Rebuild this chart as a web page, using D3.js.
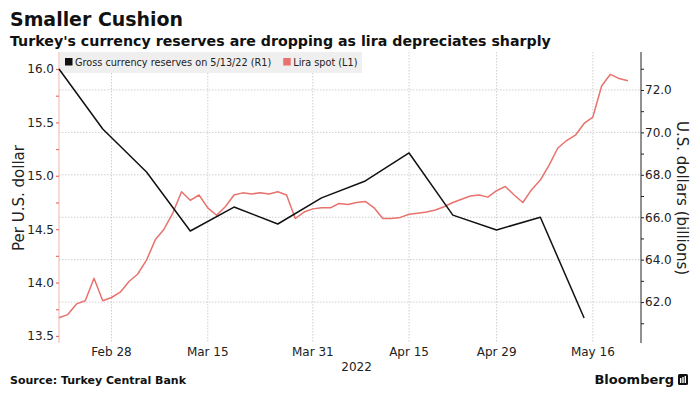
<!DOCTYPE html>
<html>
<head>
<meta charset="utf-8">
<script src="https://cdn.jsdelivr.net/npm/d3@7"></script>
<style>
    body { margin: 0; background: white; }
    text { font-family: "DejaVu Sans", sans-serif; }
</style>
</head>
<body>
<div id="chart"></div>
<script>
// Data: one entry per trading day (weekdays), 2022
var dates = [
    "Feb 18",
    "Feb 21", "Feb 22", "Feb 23", "Feb 24", "Feb 25",
    "Feb 28", "Mar 1", "Mar 2", "Mar 3", "Mar 4",
    "Mar 7", "Mar 8", "Mar 9", "Mar 10", "Mar 11",
    "Mar 14", "Mar 15", "Mar 16", "Mar 17", "Mar 18",
    "Mar 21", "Mar 22", "Mar 23", "Mar 24", "Mar 25",
    "Mar 28", "Mar 29", "Mar 30", "Mar 31", "Apr 1",
    "Apr 4", "Apr 5", "Apr 6", "Apr 7", "Apr 8",
    "Apr 11", "Apr 12", "Apr 13", "Apr 14", "Apr 15",
    "Apr 18", "Apr 19", "Apr 20", "Apr 21", "Apr 22",
    "Apr 25", "Apr 26", "Apr 27", "Apr 28", "Apr 29",
    "May 2", "May 3", "May 4", "May 5", "May 6",
    "May 9", "May 10", "May 11", "May 12", "May 13",
    "May 16", "May 17", "May 18", "May 19", "May 20"
];

// Lira per U.S. dollar (left axis)
var liraSpot = [
    13.67,
    13.70, 13.80, 13.83, 14.04, 13.83,
    13.86, 13.91, 14.01, 14.08, 14.21,
    14.40, 14.50, 14.65, 14.85, 14.77,
    14.82, 14.70, 14.63, 14.71, 14.82,
    14.84, 14.83, 14.84, 14.83, 14.85,
    14.82, 14.60, 14.66, 14.69, 14.70,
    14.70, 14.74, 14.73, 14.75, 14.76,
    14.70, 14.60, 14.60, 14.61, 14.64,
    14.65, 14.66, 14.68, 14.71, 14.75,
    14.78, 14.81, 14.82, 14.80, 14.86,
    14.90, 14.82, 14.75, 14.87, 14.96,
    15.10, 15.26, 15.33, 15.38, 15.49,
    15.55, 15.84, 15.95, 15.91, 15.89
];

// Gross currency reserves, USD billions (right axis), weekly on Fridays
var reserveDates = [
    "Feb 18", "Feb 25", "Mar 4", "Mar 11", "Mar 18", "Mar 25", "Apr 1",
    "Apr 8", "Apr 15", "Apr 22", "Apr 29", "May 6", "May 13"
];
var reserves = [
    72.99, 70.16, 68.13, 65.35, 66.48, 65.68, 66.91,
    67.71, 69.03, 66.10, 65.40, 66.00, 61.25
];

var dateTicks = ["Feb 28", "Mar 15", "Mar 31", "Apr 15", "Apr 29", "May 16"];
var leftTicks = [13.5, 14.0, 14.5, 15.0, 15.5, 16.0];
var rightTicks = [62, 64, 66, 68, 70, 72];

var legendItems = [
    {label: "Gross currency reserves on 5/13/22 (R1)", color: "#111111"},
    {label: "Lira spot (L1)", color: "#e8726d"}
];


var W = 698, H = 398;
var plot = {left: 59, right: 641, top: 52, bottom: 343};
var RED = "#e8726d";

var svg = d3.select("#chart")
    .append("svg")
    .attr("width", W)
    .attr("height", H);

var dayIndex = function(d) { return dates.indexOf(d); };

var x = d3.scaleLinear()
    .domain([0, 66.5])
    .range([plot.left, plot.right]);

var yLeft = d3.scaleLinear()
    .domain([13.434, 16.159])
    .range([plot.bottom, plot.top]);

var yRight = d3.scaleLinear()
    .domain([60.07, 73.79])
    .range([plot.bottom, plot.top]);

// Titles
svg.append("text")
    .attr("x", 10).attr("y", 26)
    .style("font-size", "19.5px").style("font-weight", "bold")
    .attr("fill", "#111")
    .attr("textLength", 173).attr("lengthAdjust", "spacingAndGlyphs")
    .text("Smaller Cushion");

svg.append("text")
    .attr("x", 10).attr("y", 46)
    .style("font-size", "14.2px").style("font-weight", "bold")
    .attr("fill", "#111")
    .text("Turkey's currency reserves are dropping as lira depreciates sharply");

// Gridlines
svg.append("g")
    .selectAll("line")
    .data(rightTicks)
    .enter()
    .append("line")
    .attr("x1", plot.left).attr("x2", plot.right)
    .attr("y1", function(d) { return yRight(d); })
    .attr("y2", function(d) { return yRight(d); })
    .attr("stroke", "#cfcfcf")
    .attr("stroke-dasharray", "1.5,1.5");

svg.append("g")
    .selectAll("line")
    .data(dateTicks)
    .enter()
    .append("line")
    .attr("x1", function(d) { return x(dayIndex(d)); })
    .attr("x2", function(d) { return x(dayIndex(d)); })
    .attr("y1", plot.top).attr("y2", plot.bottom)
    .attr("stroke", "#cfcfcf")
    .attr("stroke-dasharray", "1.5,1.5");

// Legend
svg.append("rect")
    .attr("x", plot.left + 1).attr("y", plot.top)
    .attr("width", 302).attr("height", 21)
    .attr("fill", "#efefef");

var lx = 65;
legendItems.forEach(function(item, i) {
    svg.append("rect")
        .attr("x", lx).attr("y", 58)
        .attr("width", 7.5).attr("height", 7.5)
        .attr("fill", item.color);
    var t = svg.append("text")
        .attr("x", lx + 10).attr("y", 66)
        .style("font-size", "9.7px")
        .attr("fill", "#222")
        .text(item.label);
    lx += t.node().getComputedTextLength() + 22;
});

// Left axis (lira)
var leftAxis = d3.axisLeft(yLeft)
    .tickValues(d3.range(13.5, 16.01, 0.25))
    .tickSize(3)
    .tickFormat(function(d) { return leftTicks.indexOf(d) > -1 ? d3.format(".1f")(d) : ""; });

var gl = svg.append("g")
    .attr("transform", "translate(" + plot.left + ",0)")
    .call(leftAxis);
gl.select(".domain").attr("stroke", "#f3b3b0").attr("d", "M0," + plot.top + "V" + plot.bottom);
gl.selectAll(".tick line").attr("stroke", RED).attr("stroke-width", 1.2);
gl.selectAll(".tick text")
    .attr("x", -5)
    .style("font-family", "DejaVu Sans, sans-serif")
    .style("font-size", "12px")
    .attr("fill", "#222");

// Right axis (reserves)
var rightAxis = d3.axisRight(yRight)
    .tickValues(d3.range(61, 73.5, 1))
    .tickSize(3)
    .tickFormat(function(d) { return rightTicks.indexOf(d) > -1 ? d3.format(".1f")(d) : ""; });

var gr = svg.append("g")
    .attr("transform", "translate(" + plot.right + ",0)")
    .call(rightAxis);
gr.select(".domain").attr("stroke", "#222").attr("d", "M0," + plot.top + "V" + plot.bottom);
gr.selectAll(".tick line").attr("stroke", "#222");
gr.selectAll(".tick text")
    .attr("x", 4)
    .style("font-family", "DejaVu Sans, sans-serif")
    .style("font-size", "12px")
    .attr("fill", "#222");

// Axis titles
svg.append("text")
    .attr("transform", "translate(24,198) rotate(-90)")
    .attr("text-anchor", "middle")
    .style("font-size", "15px")
    .attr("fill", "#222")
    .text("Per U.S. dollar");

svg.append("text")
    .attr("transform", "translate(677,198) rotate(90)")
    .attr("text-anchor", "middle")
    .style("font-size", "15px")
    .attr("fill", "#222")
    .text("U.S. dollars (billions)");

// Date labels
svg.append("g")
    .selectAll("text")
    .data(dateTicks)
    .enter()
    .append("text")
    .attr("x", function(d) { return x(dayIndex(d)); })
    .attr("y", 356)
    .attr("text-anchor", "middle")
    .style("font-size", "12px")
    .attr("fill", "#222")
    .text(function(d) { return d; });

svg.append("text")
    .attr("x", x(dayIndex("Apr 7")))
    .attr("y", 371)
    .attr("text-anchor", "middle")
    .style("font-size", "12px")
    .attr("fill", "#222")
    .text("2022");

// Lines
var liraLine = d3.line()
    .x(function(d, i) { return x(i); })
    .y(function(d) { return yLeft(d); });

svg.append("path")
    .datum(liraSpot)
    .attr("d", liraLine)
    .attr("fill", "none")
    .attr("stroke", RED)
    .attr("stroke-width", 1.5)
    .attr("stroke-linejoin", "round");

var reserveLine = d3.line()
    .x(function(d, i) { return x(dayIndex(reserveDates[i])); })
    .y(function(d) { return yRight(d); });

svg.append("path")
    .datum(reserves)
    .attr("d", reserveLine)
    .attr("fill", "none")
    .attr("stroke", "#111")
    .attr("stroke-width", 1.5)
    .attr("stroke-linejoin", "round");

// Footer
svg.append("text")
    .attr("x", 10).attr("y", 384)
    .style("font-size", "11px").style("font-weight", "bold")
    .attr("fill", "#111")
    .text("Source: Turkey Central Bank");

svg.append("text")
    .attr("x", 674).attr("y", 384)
    .attr("text-anchor", "end")
    .style("font-size", "13px").style("font-weight", "bold")
    .attr("fill", "#111")
    .text("Bloomberg");

svg.append("rect")
    .attr("x", 678).attr("y", 374)
    .attr("width", 10).attr("height", 11)
    .attr("rx", 1.5)
    .attr("fill", "#111");
[0, 1, 2].forEach(function(k) {
    svg.append("rect")
        .attr("x", 680 + k * 2.3).attr("y", 378 - k)
        .attr("width", 1.4).attr("height", 5 + k)
        .attr("fill", "white");
});
</script>
</body>
</html>
